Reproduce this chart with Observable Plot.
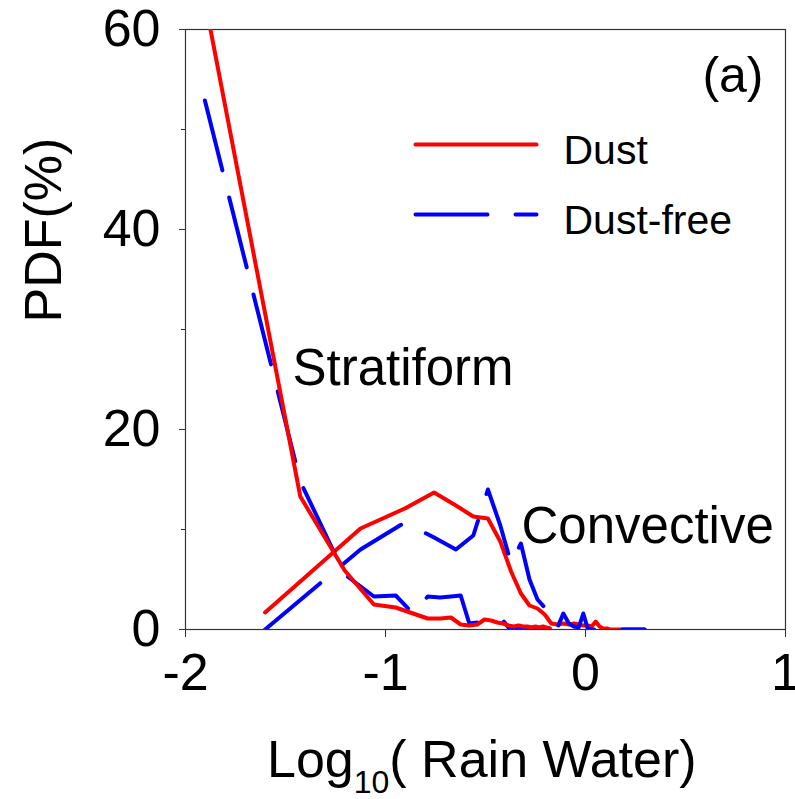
<!DOCTYPE html>
<html>
<head>
<meta charset="utf-8">
<script src="https://cdn.jsdelivr.net/npm/d3@7"></script>
<script src="https://cdn.jsdelivr.net/npm/@observablehq/plot@0.6"></script>
<style>
  html, body { margin: 0; padding: 0; background: #fff; }
  #chart { width: 795px; height: 799px; }
</style>
</head>
<body>
<div id="chart"></div>
<script>
// ---- Data ----
const xTicks = [-2, -1, 0, 1];
const yTicks = [0, 20, 40, 60];
const yMinorTicks = [10, 30, 50];

// Stratiform bins (log10 of rain water bin centres)
const stratX = [-1.903, -1.426, -1.204, -1.058, -0.949, -0.862, -0.789, -0.727, -0.673, -0.624,
                -0.581, -0.541, -0.505, -0.472, -0.441, -0.412, -0.385, -0.359, -0.335, -0.312,
                -0.290, -0.270, -0.250, -0.231, -0.213, -0.196, -0.179];
const dustStrat = [62.9, 13.3, 5.9, 2.5, 2.2, 1.6, 1.1, 1.1, 1.2, 0.5,
                   0.4, 0.5, 1.0, 0.9, 0.7, 0.6, 0.4, 0.3, 0.4, 0.3,
                   0.3, 0.2, 0.3, 0.2, 0.3, 0.2, 0.1];
const freeStrat = [52.9, 14.8, 5.5, 3.3, 3.4, 1.6, 3.3, 3.2, 3.3, 3.4,
                   0.6, 0.7, 0.7, 0.6, 0.6, 0.9, 0.2, 0.2, 0.1, 0.2,
                   0.1, 0.2, 0.1, 0.1, 0.2, 0.1, 0.1];

// Convective bins
const convX = [-1.602, -1.125, -0.903, -0.757, -0.648, -0.561, -0.488, -0.426, -0.372, -0.323,
               -0.280, -0.240, -0.204, -0.171, -0.140, -0.111, -0.083, -0.058, -0.034, -0.011,
               0.011, 0.031, 0.051, 0.070, 0.088, 0.106, 0.122, 0.138, 0.154, 0.169,
               0.183, 0.197, 0.211, 0.224, 0.237, 0.249, 0.261, 0.273, 0.284, 0.296];
const dustConv = [1.7, 10.1, 12.1, 13.7, 12.4, 11.3, 11.1, 8.8, 5.8, 3.6,
                  2.4, 2.1, 1.5, 0.6, 0.5, 0.6, 0.5, 0.6, 0.5, 0.4,
                  0.4, 0.3, 0.8, 0.3, 0.1, 0.1, 0.0, 0.0, 0.0, 0.0,
                  0.0, 0.0, 0.0, 0.0, 0.0, 0.0, 0.0, 0.0, 0.0, 0.0];
const freeConv = [0.0, 8.0, 10.7, 9.2, 8.0, 9.4, 14.0, 10.4, 6.6, 8.6,
                  5.0, 3.0, 2.2, 1.1, 0.2, 1.6, 0.6, 0.3, 0.2, 1.6,
                  0.1, 0.0, 0.0, 0.0, 0.0, 0.0, 0.0, 0.0, 0.0, 0.0,
                  0.0, 0.0, 0.0, 0.0, 0.0, 0.0, 0.0, 0.0, 0.0, 0.0];

const seriesNames = ["Dust", "Dust-free"];
const seriesColors = ["#ff0000", "#0000ff"];
const seriesDash = [null, "72,28"];

const regimeLabels = [
  {x: -1.465, y: 24.5, text: "Stratiform"},
  {x: -0.32, y: 8.7, text: "Convective"}
];
const panelLabel = [{x: 0.89, y: 53.8, text: "(a)"}];

// legend placement (data space)
const legendX = [-0.85, -0.245];
const legendY = [48.5, 41.5];
const legendTextX = -0.11;
const legendTextY = [46.6, 39.6];

// ---- Build tables ----
const toRows = (xs, ys) => xs.map((x, i) => ({x, y: ys[i]}));
const rowsDustStrat = toRows(stratX, dustStrat);
const rowsFreeStrat = toRows(stratX, freeStrat);
const rowsDustConv = toRows(convX, dustConv);
const rowsFreeConv = toRows(convX, freeConv);

const legendRows = seriesNames.map((name, i) => ({name, i}));

const font = "'Liberation Sans', Arial, Helvetica, sans-serif";

const lineOpts = (i) => {
  const o = {
    x: "x", y: "y",
    stroke: seriesColors[i], strokeWidth: 4,
    strokeLinecap: "round", strokeLinejoin: "round",
    clip: "frame"
  };
  if (seriesDash[i]) o.strokeDasharray = seriesDash[i];
  return o;
};

const legendSwatch = (i) => {
  const o = {
    x1: legendX[0], x2: legendX[1],
    y1: legendY[i], y2: legendY[i],
    stroke: seriesColors[i], strokeWidth: 4, strokeLinecap: "round"
  };
  if (seriesDash[i]) o.strokeDasharray = seriesDash[i];
  return Plot.link([legendRows[i]], o);
};

const chart = Plot.plot({
  width: 795, height: 799,
  marginLeft: 185, marginRight: 10, marginTop: 29, marginBottom: 170,
  style: {fontFamily: font, background: "#fff", color: "#000", overflow: "visible"},
  x: {domain: [-2, 1]},
  y: {domain: [0, 60]},
  marks: [
    Plot.frame({stroke: "#333", strokeWidth: 1.2}),
    Plot.axisY(yTicks, {tickSize: 6, tickPadding: 19, fontSize: 52, label: null, tickFormat: d => String(d), stroke: "#333"}),
    Plot.axisY(yMinorTicks, {tickSize: 4, tickFormat: () => "", label: null, stroke: "#333"}),
    Plot.axisX(xTicks, {tickSize: 8, tickPadding: 16, fontSize: 52, label: null, tickFormat: d => String(d), stroke: "#333"}),
    Plot.line(rowsDustConv, lineOpts(0)),
    Plot.line(rowsFreeConv, lineOpts(1)),
    Plot.line(rowsFreeStrat, lineOpts(1)),
    Plot.line(rowsDustStrat, lineOpts(0)),
    // legend
    legendSwatch(0),
    legendSwatch(1),
    Plot.text(legendRows, {
      x: legendTextX, y: d => legendTextY[d.i], text: "name",
      textAnchor: "start", lineAnchor: "bottom", fontSize: 41, fill: "#000"
    }),
    Plot.text(regimeLabels, {
      x: "x", y: "y", text: "text", textAnchor: "start",
      lineAnchor: "bottom", fontSize: 51, fill: "#000"
    }),
    Plot.text(panelLabel, {
      x: "x", y: "y", text: "text", textAnchor: "end",
      lineAnchor: "bottom", fontSize: 50, fill: "#000"
    }),
    Plot.text(["PDF(%)"], {
      text: d => d, frameAnchor: "left", rotate: -90, dx: -125, dy: -7,
      lineAnchor: "bottom", fontSize: 52, fill: "#000"
    })
  ]
});

// x-axis title with subscript
const xt = d3.select(chart).append("text")
  .attr("x", 267).attr("y", 777)
  .attr("text-anchor", "start")
  .attr("font-family", font).attr("font-size", 52).attr("fill", "#000");
xt.append("tspan").text("Log");
xt.append("tspan").attr("font-size", 32).attr("dy", 16).text("10");
xt.append("tspan").attr("dy", -16).text("( Rain Water)");

document.getElementById("chart").appendChild(chart);
</script>
</body>
</html>
